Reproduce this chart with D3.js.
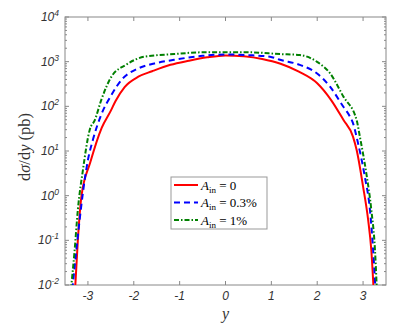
<!DOCTYPE html>
<html>
<head>
<meta charset="utf-8">
<script src="https://cdn.jsdelivr.net/npm/d3@7"></script>
<style>
  body { margin: 0; background: #fff; }
  svg { display: block; }
</style>
</head>
<body>
<svg id="chart" width="415" height="329"></svg>
<script>
// rapidity values and dsigma/dy (pb)
const redY = [-3.28, -3.22, -3.14, -2.95, -2.7, -2.5, -2.4, -2.2, -1.9, -1.6, -1.2, -0.8, -0.4, 0, 0.4, 0.8, 1.2, 1.6, 2.0, 2.3, 2.57, 2.78, 2.86, 3.0, 3.11, 3.18, 3.23]
const redVal = [0.008, 0.1, 1, 5.5, 33, 80, 130, 270, 460, 610, 850, 1050, 1250, 1380, 1320, 1150, 900, 600, 330, 140, 50, 21, 10.5, 1.6, 0.29, 0.06, 0.008]

const blueY = [-3.34, -3.18, -3.11, -3.0, -2.89, -2.71, -2.49, -2.27, -1.91, -1.55, -1.12, -0.5, 0, 0.5, 0.97, 1.19, 1.62, 1.99, 2.28, 2.57, 2.71, 2.78, 2.89, 3.04, 3.15, 3.22, 3.27]
const blueVal = [0.008, 0.29, 1.15, 6.3, 18, 65, 178, 390, 700, 910, 1100, 1350, 1450, 1400, 1290, 1100, 850, 550, 275, 98, 60, 42, 15, 2.6, 0.48, 0.06, 0.008]

const greenY = [-3.37, -3.29, -3.22, -3.11, -2.96, -2.85, -2.71, -2.49, -2.17, -1.77, -1.12, -0.5, 0, 0.5, 1.19, 1.62, 1.99, 2.28, 2.57, 2.86, 2.93, 3.07, 3.18, 3.26, 3.3]
const greenVal = [0.008, 0.06, 0.48, 3.7, 30, 49, 138, 457, 850, 1290, 1480, 1620, 1620, 1620, 1480, 1410, 1000, 550, 166, 49, 21, 3.2, 0.48, 0.06, 0.008]

const xTicks = [-3, -2, -1, 0, 1, 2, 3]
const yExps = [-2, -1, 0, 1, 2, 3, 4]
const legendLabels = ['0', '0.3%', '1%']

const series = [
  { x: redY, v: redVal, color: '#ff0000', dash: null },
  { x: blueY, v: blueVal, color: '#0000ff', dash: '6,4' },
  { x: greenY, v: greenVal, color: '#008000', dash: '5,2,1.5,2' },
]

const svg = d3.select('#chart')
const margin = { top: 17, right: 29, bottom: 44, left: 65 }
const width = 415 - margin.left - margin.right
const height = 329 - margin.top - margin.bottom
const g = svg.append('g').attr('transform', 'translate(' + margin.left + ',' + margin.top + ')')

const x = d3.scaleLinear().domain([-3.5, 3.5]).range([0, width])
const y = d3.scaleLog().domain([1e-2, 1e4]).range([height, 0])

// minor ticks for log axis
const minor = []
yExps.slice(0, -1).forEach((e) => {
  for (let k = 2; k <= 9; k++) minor.push(k * Math.pow(10, e))
})

const axisColor = '#888'

// box
g.append('rect')
  .attr('width', width)
  .attr('height', height)
  .attr('fill', 'none')
  .attr('stroke', axisColor)
  .attr('stroke-width', 1)

// x ticks (bottom + top, inward)
xTicks.forEach((t) => {
  g.append('line').attr('x1', x(t)).attr('x2', x(t)).attr('y1', height).attr('y2', height - 4).attr('stroke', axisColor)
  g.append('line').attr('x1', x(t)).attr('x2', x(t)).attr('y1', 0).attr('y2', 4).attr('stroke', axisColor)
  g.append('text')
    .attr('x', x(t))
    .attr('y', height + 15)
    .attr('text-anchor', 'middle')
    .attr('font-family', '"Liberation Sans", Arial, sans-serif')
    .attr('font-style', 'italic')
    .attr('font-size', 12)
    .attr('fill', '#333')
    .text(t)
})

// y ticks (left + right, inward)
yExps.forEach((e) => {
  const py = y(Math.pow(10, e))
  g.append('line').attr('x1', 0).attr('x2', 4).attr('y1', py).attr('y2', py).attr('stroke', axisColor)
  g.append('line').attr('x1', width).attr('x2', width - 4).attr('y1', py).attr('y2', py).attr('stroke', axisColor)
  const t = g.append('text')
    .attr('x', -6)
    .attr('y', py + 4)
    .attr('text-anchor', 'end')
    .attr('font-family', '"Liberation Sans", Arial, sans-serif')
    .attr('font-style', 'italic')
    .attr('font-size', 12)
    .attr('fill', '#333')
  t.append('tspan').text('10')
  t.append('tspan').attr('dy', -5).attr('font-size', 8.5).text(e)
})
minor.forEach((m) => {
  const py = y(m)
  g.append('line').attr('x1', 0).attr('x2', 2).attr('y1', py).attr('y2', py).attr('stroke', axisColor)
  g.append('line').attr('x1', width).attr('x2', width - 2).attr('y1', py).attr('y2', py).attr('stroke', axisColor)
})

// clip
g.append('clipPath').attr('id', 'clip')
  .append('rect').attr('width', width).attr('height', height)

const line = d3.line()
  .x((d) => x(d[0]))
  .y((d) => y(d[1]))
  .curve(d3.curveMonotoneX)

series.forEach((s) => {
  g.append('path')
    .datum(s.x.map((xx, i) => [xx, s.v[i]]))
    .attr('clip-path', 'url(#clip)')
    .attr('fill', 'none')
    .attr('stroke', s.color)
    .attr('stroke-width', 2)
    .attr('stroke-dasharray', s.dash)
    .attr('d', line)
})

// axis labels
svg.append('text')
  .attr('x', margin.left + x(0))
  .attr('y', 319)
  .attr('text-anchor', 'middle')
  .attr('font-family', '"Liberation Serif", "Times New Roman", serif')
  .attr('font-style', 'italic')
  .attr('font-size', 16)
  .attr('fill', '#333')
  .text('y')

const yl = svg.append('text')
  .attr('transform', 'translate(30,147) rotate(-90)')
  .attr('text-anchor', 'middle')
  .attr('font-family', '"Liberation Serif", "Times New Roman", serif')
  .attr('font-size', 16.5)
  .attr('fill', '#333')
yl.append('tspan').text('d')
yl.append('tspan').attr('font-style', 'italic').text('σ')
yl.append('tspan').text('/d')
yl.append('tspan').attr('font-style', 'italic').text('y')
yl.append('tspan').text(' (pb)')

// legend
const legend = svg.append('g').attr('transform', 'translate(171,177)')
legend.append('rect')
  .attr('width', 96)
  .attr('height', 52)
  .attr('fill', '#fff')
  .attr('stroke', '#999')
series.forEach((s, i) => {
  const ly = 8 + i * 17.5
  legend.append('line')
    .attr('x1', 3).attr('x2', 27)
    .attr('y1', ly).attr('y2', ly)
    .attr('stroke', s.color)
    .attr('stroke-width', 2)
    .attr('stroke-dasharray', s.dash)
  const t = legend.append('text')
    .attr('x', 30)
    .attr('y', ly + 4.5)
    .attr('font-family', '"Liberation Serif", "Times New Roman", serif')
    .attr('font-size', 13)
    .attr('fill', '#000')
  t.append('tspan').attr('font-style', 'italic').text('A')
  t.append('tspan').attr('dy', 3).attr('font-size', 9).text('in')
  t.append('tspan').attr('dy', -3).text(' = ' + legendLabels[i])
})
</script>
</body>
</html>
